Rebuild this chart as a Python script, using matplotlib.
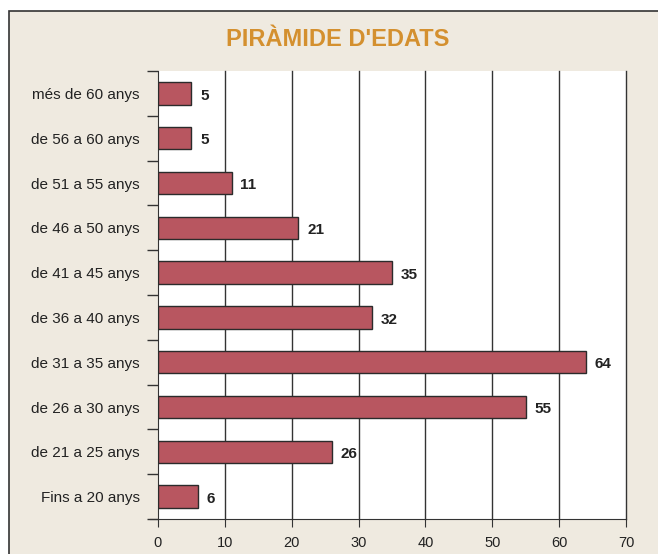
import matplotlib
matplotlib.use("Agg")
import matplotlib.pyplot as plt
from matplotlib.patches import Rectangle

# Dades
categories = ['Fins a 20 anys', 'de 21 a 25 anys', 'de 26 a 30 anys', 'de 31 a 35 anys',
              'de 36 a 40 anys', 'de 41 a 45 anys', 'de 46 a 50 anys', 'de 51 a 55 anys',
              'de 56 a 60 anys', 'més de 60 anys']
values = [6, 26, 55, 64, 32, 35, 21, 11, 5, 5]
xticks = [0, 10, 20, 30, 40, 50, 60, 70]

plt.rcParams['font.family'] = ['Liberation Sans Narrow', 'Liberation Sans', 'DejaVu Sans']

fig = plt.figure(figsize=(6.58, 5.54), dpi=100)
fig.patch.set_facecolor('white')

# fons beige amb vora
fig.patches.append(Rectangle((9 / 658, -0.01), 1.0, 1 - 11 / 554 + 0.01,
                             transform=fig.transFigure, facecolor='#EFEAE0',
                             edgecolor='#333333', linewidth=1.2, zorder=-1))

ax = fig.add_axes([158 / 658, 35 / 554, 468 / 658, 448 / 554])
ax.set_facecolor('white')

y = range(len(categories))
ax.barh(y, values, height=0.5, color='#B85660', edgecolor='#2b2b2b', linewidth=1, zorder=3)
for i, v in enumerate(values):
    ax.text(v + 1.3, i - 0.05, str(v), va='center', ha='left', fontsize=11, fontweight='bold',
            color='#222222')

ax.set_xlim(0, 70)
ax.set_ylim(-0.5, len(categories) - 0.5)
ax.set_xticks(xticks)
ax.set_xticklabels([str(t) for t in xticks], fontsize=10.5, color='#222222')
ax.set_yticks(list(y))
ax.set_yticklabels(categories, fontsize=11, color='#222222')
ax.tick_params(axis='y', length=0, pad=13)
ax.tick_params(axis='x', length=6, direction='out', color='#333333', pad=6)

# marques entre categories
ax.set_yticks([i - 0.5 for i in range(len(categories) + 1)], minor=True)
ax.tick_params(axis='y', which='minor', length=8, color='#333333', width=1)

for t in xticks[1:]:
    ax.axvline(t, color='#333333', linewidth=1, zorder=1, clip_on=False)

for s in ['top', 'right']:
    ax.spines[s].set_visible(False)
ax.spines['left'].set_color('#333333')
ax.spines['bottom'].set_color('#333333')
ax.spines['bottom'].set_bounds(-1.2, 70)

fig.text(338 / 658, 1 - 40 / 554, "PIRÀMIDE D'EDATS", ha='center', va='center',
         fontsize=17, fontweight='bold', color='#D4902F')

fig.savefig('out.png', dpi=100)
